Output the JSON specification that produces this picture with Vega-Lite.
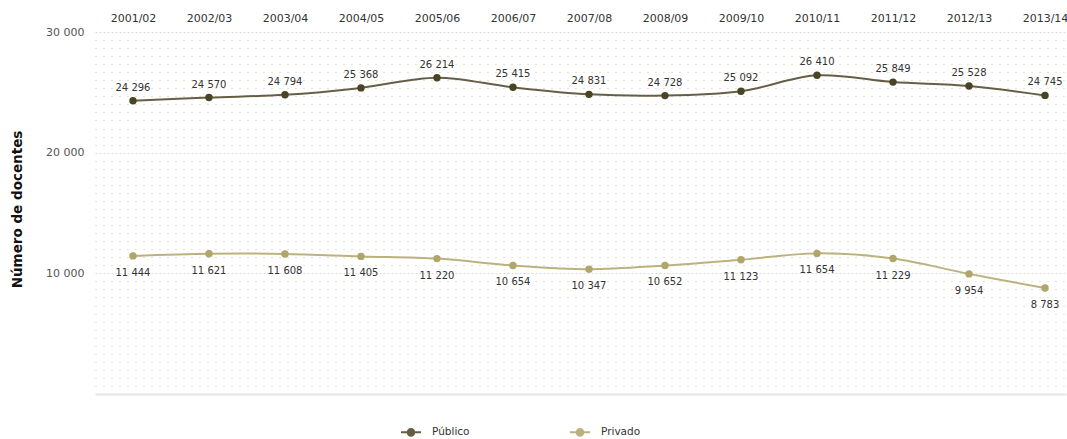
{
  "$schema": "https://vega.github.io/schema/vega-lite/v6.json",
  "width": 971,
  "height": 362,
  "autosize": {"type": "none"},
  "padding": {"left": 95, "top": 32, "right": 1, "bottom": 45},
  "background": "white",
  "config": {
    "font": "DejaVu Sans",
    "view": {"stroke": null},
    "locale": {"number": {"decimal": ",", "thousands": " ", "grouping": [3], "currency": ["", " €"]}}
  },
  "data": {"values": [
    {"ano": "2001/02", "sector": "Público", "docentes": 24296},
    {"ano": "2002/03", "sector": "Público", "docentes": 24570},
    {"ano": "2003/04", "sector": "Público", "docentes": 24794},
    {"ano": "2004/05", "sector": "Público", "docentes": 25368},
    {"ano": "2005/06", "sector": "Público", "docentes": 26214},
    {"ano": "2006/07", "sector": "Público", "docentes": 25415},
    {"ano": "2007/08", "sector": "Público", "docentes": 24831},
    {"ano": "2008/09", "sector": "Público", "docentes": 24728},
    {"ano": "2009/10", "sector": "Público", "docentes": 25092},
    {"ano": "2010/11", "sector": "Público", "docentes": 26410},
    {"ano": "2011/12", "sector": "Público", "docentes": 25849},
    {"ano": "2012/13", "sector": "Público", "docentes": 25528},
    {"ano": "2013/14", "sector": "Público", "docentes": 24745},
    {"ano": "2001/02", "sector": "Privado", "docentes": 11444},
    {"ano": "2002/03", "sector": "Privado", "docentes": 11621},
    {"ano": "2003/04", "sector": "Privado", "docentes": 11608},
    {"ano": "2004/05", "sector": "Privado", "docentes": 11405},
    {"ano": "2005/06", "sector": "Privado", "docentes": 11220},
    {"ano": "2006/07", "sector": "Privado", "docentes": 10654},
    {"ano": "2007/08", "sector": "Privado", "docentes": 10347},
    {"ano": "2008/09", "sector": "Privado", "docentes": 10652},
    {"ano": "2009/10", "sector": "Privado", "docentes": 11123},
    {"ano": "2010/11", "sector": "Privado", "docentes": 11654},
    {"ano": "2011/12", "sector": "Privado", "docentes": 11229},
    {"ano": "2012/13", "sector": "Privado", "docentes": 9954},
    {"ano": "2013/14", "sector": "Privado", "docentes": 8783}
  ]},
  "encoding": {
    "x": {
      "field": "ano", "type": "ordinal", "sort": null,
      "scale": {"type": "point", "padding": 0.388, "align": 0.644},
      "axis": {"orient": "top", "title": null, "labelAngle": 0, "domain": false, "ticks": false, "grid": false,
               "labelPadding": 9, "labelFontSize": 11, "labelColor": "#333333"}
    },
    "y": {
      "field": "docentes", "type": "quantitative",
      "scale": {"domain": [0, 30000], "nice": false, "zero": true},
      "axis": {
        "title": "Número de docentes", "titleFontSize": 13.5, "titleFontWeight": "bold", "titleColor": "#111111",
        "titleX": -78, "titleY": 177, "titleAngle": -90, "titleAlign": "center", "titleBaseline": "middle",
        "domain": false, "ticks": false, "labelPadding": 11, "labelFontSize": 11, "labelColor": "#555555",
        "labelOverlap": false, "labelBound": false,
        "labelExpr": "datum.value === 10000 ? '10 000' : datum.value === 20000 ? '20 000' : datum.value === 30000 ? '30 000' : ''",
        "values": [0, 666.67, 1333.33, 2000, 2666.67, 3333.33, 4000, 4666.67, 5333.33, 6000, 6666.67, 7333.33, 8000, 8666.67, 9333.33, 10000, 10666.67, 11333.33, 12000, 12666.67, 13333.33, 14000, 14666.67, 15333.33, 16000, 16666.67, 17333.33, 18000, 18666.67, 19333.33, 20000, 20666.67, 21333.33, 22000, 22666.67, 23333.33, 24000, 24666.67, 25333.33, 26000, 26666.67, 27333.33, 28000, 28666.67, 29333.33, 30000],
        "grid": true,
        "gridColor": {"condition": [{"test": "datum.value === 0", "value": "#e6e6e6"}, {"test": "datum.value % 10000 === 0", "value": "#dcdcdc"}], "value": "#d3cb9c"},
        "gridDash": {"condition": [{"test": "datum.value === 0", "value": []}, {"test": "datum.value % 10000 === 0", "value": [2, 2]}], "value": [1, 7]},
        "gridWidth": {"condition": {"test": "datum.value === 0", "value": 2}, "value": 1.2}
      }
    },
    "color": {
      "field": "sector", "type": "nominal",
      "scale": {"domain": ["Público", "Privado"], "range": ["#4a4326", "#b0a56a"]},
      "legend": {
        "orient": "none", "legendX": 305, "legendY": 389, "direction": "horizontal", "title": null,
        "symbolType": "M-1,0H1M0.33,0A0.33,0.33,0,1,1,-0.33,0A0.33,0.33,0,1,1,0.33,0Z",
        "symbolSize": 400, "symbolStrokeWidth": 2, "labelFontSize": 10.5, "labelColor": "#333333",
        "labelOffset": 10, "columnPadding": 96,
        "encode": {"symbols": {"update": {"fill": {"scale": "color", "field": "value"}, "stroke": {"scale": "color", "field": "value"}, "opacity": {"value": 1}}}}
      }
    }
  },
  "layer": [
    {"mark": {"type": "line", "interpolate": "catmull-rom", "strokeWidth": 2, "opacity": 0.85}},
    {"mark": {"type": "point", "filled": true, "size": 55, "opacity": 1}},
    {
      "transform": [{"filter": "datum.sector === 'Público'"}],
      "mark": {"type": "text", "dy": -13, "fontSize": 10, "color": "#333333"},
      "encoding": {"text": {"field": "docentes", "type": "quantitative", "format": ","}, "color": {"value": "#333333"}}
    },
    {
      "transform": [{"filter": "datum.sector === 'Privado'"}],
      "mark": {"type": "text", "dy": 17, "fontSize": 10, "color": "#333333"},
      "encoding": {"text": {"field": "docentes", "type": "quantitative", "format": ","}, "color": {"value": "#333333"}}
    }
  ]
}
